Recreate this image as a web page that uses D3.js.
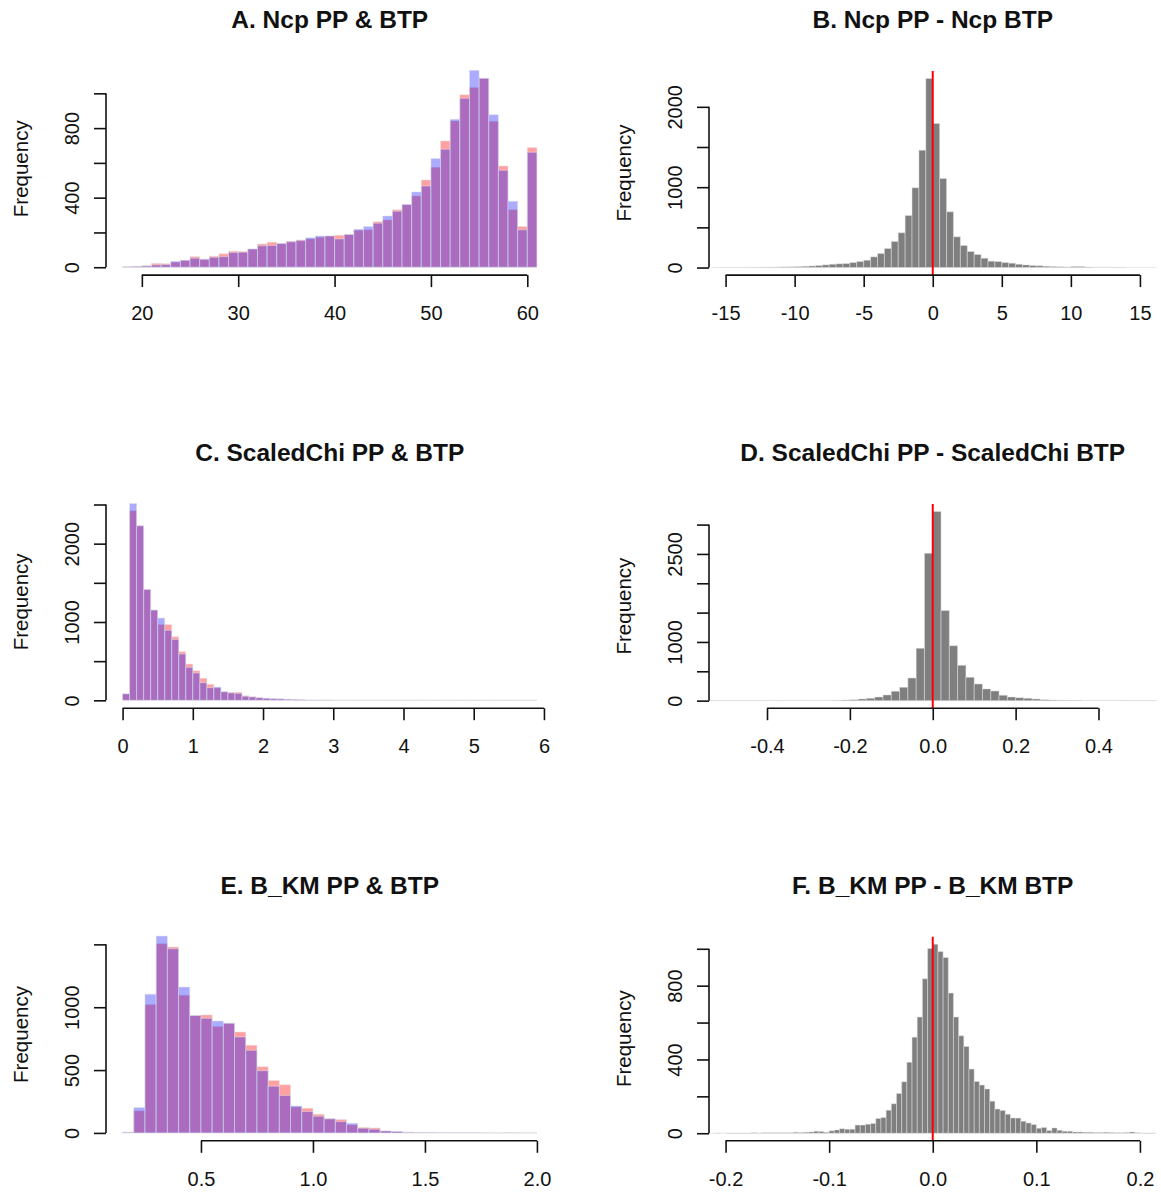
<!DOCTYPE html>
<html>
<head>
<meta charset="utf-8">
<script src="https://cdn.jsdelivr.net/npm/d3@7"></script>
<style>
  body { margin: 0; background: #fff; }
  svg { font-family: "Liberation Sans", Arial, Helvetica, sans-serif; }
</style>
</head>
<body>
<svg id="chart" width="1161" height="1194"></svg>
<script>
// values (counts per bin)

var titles = ['A. Ncp PP & BTP', 'B. Ncp PP - Ncp BTP',
              'C. ScaledChi PP & BTP', 'D. ScaledChi PP - ScaledChi BTP',
              'E. B_KM PP & BTP', 'F. B_KM PP - B_KM BTP'];

// A: bins of width 1 starting at 18
var ncpBinStart = 18, ncpBinWidth = 1;
var ncpPP  = [3,5,9,22,20,29,40,61,46,63, 77,92,90,105,134,144,136,149,157,163,
              172,180,184,188,213,215,262,272,330,360, 410,502,575,726,841,992,1034,1086,839,582,
              331,234,688];
var ncpBTP = [3,5,7,13,15,34,40,52,46,57, 61,84,86,105,123,125,136,146,153,170,
              180,180,163,188,218,234,253,295,322,360, 433,467,625,678,851,971,1132,1086,877,557,
              379,215,661];
var ncpXTicks = [20, 30, 40, 50, 60];
var ncpXLabels = ['20', '30', '40', '50', '60'];
var ncpYTicks = [0, 200, 400, 600, 800, 1000];
var ncpYLabels = [0, 400, 800];

// B: bins of width 0.5 starting at -16
var ncpDiffBinStart = -16, ncpDiffBinWidth = 0.5;
var ncpDiff = [1,1,2,2,2,3,3,4,5,6, 8,9,11,15,19,25,33,41,46,50,
               62,75,91,133,174,237,324,432,647,992, 1461,2353,
               1793,1108,693,382,274,199,162,116, 79,75,62,54,41,33,25,21,16,12,
               10,8,12,14,6,5,4,4,3,3, 2,2,2,1,1];
var ncpDiffXLim = [-15, 15];
var ncpDiffXTicks = [-15, -10, -5, 0, 5, 10, 15];
var ncpDiffXLabels = ['-15', '-10', '-5', '0', '5', '10', '15'];
var ncpDiffYTicks = [0, 500, 1000, 1500, 2000];
var ncpDiffYLabels = [0, 1000, 2000];

// C: bins of width 0.1 starting at 0
var chiBinStart = 0, chiBinWidth = 0.1;
var chiPP  = [80,2419,2228,1416,1152,969,969,812,621,463, 378,281,204,157,110,102,102,60,47,34,
              26,21,17,13,9,6,5,4,3,3, 2,2,1,2,1,1,2,1,1,1, 1,2,1,0,1,1,0,1,0,0,
              1,0,0,0,0,0,0,0,1];
var chiBTP = [85,2513,2228,1416,1152,1050,893,778,591,421, 349,225,162,170,110,94,89,51,43,34,
              26,21,19,13,9,7,5,4,4,3, 2,1,2,1,1,2,1,1,0,1, 1,1,0,1,0,1,1,0,0,1,
              0,0,1,0,0,0,0,0,1];
var chiXTicks = [0, 1, 2, 3, 4, 5, 6];
var chiXLabels = ['0', '1', '2', '3', '4', '5', '6'];
var chiYTicks = [0, 500, 1000, 1500, 2000, 2500];
var chiYLabels = [0, 1000, 2000];

// D: bins of width 0.02 starting at -0.56
var chiDiffBinStart = -0.56, chiDiffBinWidth = 0.02;
var chiDiff = [1,1,1,1,1,1,1,1,2,1,2,2,2,3,3,4,
               6,11,17,28,40,62,97,159,227,386,892,2511,
               3222,1534,937,602,398,284,199,165,91,62,51,40,28,17,11,8,6,5,4,3,2,2,2,1,1,1,1,1];
var chiDiffXLim = [-0.5, 0.5];
var chiDiffXTicks = [-0.4, -0.2, 0, 0.2, 0.4];
var chiDiffXLabels = ['-0.4', '-0.2', '0.0', '0.2', '0.4'];
var chiDiffYTicks = [0, 500, 1000, 1500, 2000, 2500, 3000];
var chiDiffYLabels = [0, 1000, 2500];

// E: bins of width 0.05 starting at 0.15
var kmBinStart = 0.15, kmBinWidth = 0.05;
var kmPP  = [5,176,1021,1505,1479,1096,934,939,846,872, 803,697,527,418,383,207,197,149,112,106,
             64,43,40,16,11,5,3,2,2,1, 1,1,1,0,0,1,1];
var kmBTP = [5,202,1104,1566,1465,1160,934,912,891,872, 763,657,495,372,298,215,170,133,112,90,
             77,37,29,16,11,5,3,3,2,2, 1,1,0,0,1,0,0];
var kmXTicks = [0.5, 1.0, 1.5, 2.0];
var kmXLabels = ['0.5', '1.0', '1.5', '2.0'];
var kmYTicks = [0, 500, 1000, 1500];
var kmYLabels = [0, 500, 1000];

// F: bins of width 0.005 starting at -0.22
var kmDiffBinStart = -0.22, kmDiffBinWidth = 0.005;
var kmDiff = [0,0,1,0,1,1,1,1,1,2, 1,2,3,2,2,3,3,5,4,5, 7,11,9,5,13,18,25,22,22,44,
              44,49,53,80,85,125,160,216,279,385, 521,630,837,1002,
              1025,985,953,760,630,528,470,348,281,261, 240,174,131,123,103,83,82,65,56,47,
              27,31,15,29,16,11,11,7,7,5, 5,4,4,5,4,3,2,4,7,3, 1,1,1];
var kmDiffXLim = [-0.2, 0.2];
var kmDiffXTicks = [-0.2, -0.1, 0, 0.1, 0.2];
var kmDiffXLabels = ['-0.2', '-0.1', '0.0', '0.1', '0.2'];
var kmDiffYTicks = [0, 200, 400, 600, 800, 1000];
var kmDiffYLabels = [0, 400, 800];

// panel table built from the arrays above
var overlay = ['#ff0000', '#0000ff'];
var single = ['#7f7f7f'];
var panels = [
  {title: titles[0], col: 0, row: 0, start: ncpBinStart, width: ncpBinWidth, series: [ncpPP, ncpBTP],
   fills: overlay, xlim: null, xTicks: ncpXTicks, xLabels: ncpXLabels, yTicks: ncpYTicks, yLabels: ncpYLabels},
  {title: titles[1], col: 1, row: 0, start: ncpDiffBinStart, width: ncpDiffBinWidth, series: [ncpDiff],
   fills: single, xlim: ncpDiffXLim, xTicks: ncpDiffXTicks, xLabels: ncpDiffXLabels, yTicks: ncpDiffYTicks, yLabels: ncpDiffYLabels, zeroLine: true},
  {title: titles[2], col: 0, row: 1, start: chiBinStart, width: chiBinWidth, series: [chiPP, chiBTP],
   fills: overlay, xlim: null, xTicks: chiXTicks, xLabels: chiXLabels, yTicks: chiYTicks, yLabels: chiYLabels},
  {title: titles[3], col: 1, row: 1, start: chiDiffBinStart, width: chiDiffBinWidth, series: [chiDiff],
   fills: single, xlim: chiDiffXLim, xTicks: chiDiffXTicks, xLabels: chiDiffXLabels, yTicks: chiDiffYTicks, yLabels: chiDiffYLabels, zeroLine: true},
  {title: titles[4], col: 0, row: 2, start: kmBinStart, width: kmBinWidth, series: [kmPP, kmBTP],
   fills: overlay, xlim: null, xTicks: kmXTicks, xLabels: kmXLabels, yTicks: kmYTicks, yLabels: kmYLabels},
  {title: titles[5], col: 1, row: 2, start: kmDiffBinStart, width: kmDiffBinWidth, series: [kmDiff],
   fills: single, xlim: kmDiffXLim, xTicks: kmDiffXTicks, xLabels: kmDiffXLabels, yTicks: kmDiffYTicks, yLabels: kmDiffYLabels, zeroLine: true}
];

// layout
var colX = [106, 709];
var plotW = 447.5;
var rowBottom = [275.1, 708.2, 1140.8];
var colPlotH = [212.6, 204.2];
var titleY = [28, 461, 894];
var fontStack = '"Liberation Sans", Arial, Helvetica, sans-serif';

var svg = d3.select('#chart');

panels.forEach(function(p, i) {
  var left = colX[p.col];
  var bottom = rowBottom[p.row];
  var top = bottom - colPlotH[p.col];
  var n = p.series[0].length;

  // R style: data range (or xlim) extended by 4% each side
  var lim = p.xlim || [p.start, p.start + p.width * n];
  var pad = (lim[1] - lim[0]) * 0.04;
  var x = d3.scaleLinear().domain([lim[0] - pad, lim[1] + pad]).range([left, left + plotW]);
  var ymax = d3.max(p.series, function(s) { return d3.max(s); });
  var y = d3.scaleLinear().domain([-0.04 * ymax, 1.04 * ymax]).range([bottom, top]);

  svg.append('clipPath').attr('id', 'clip' + i)
    .append('rect')
    .attr('x', left).attr('y', top)
    .attr('width', plotW).attr('height', bottom - top);

  var plotg = svg.append('g').attr('clip-path', 'url(#clip' + i + ')');

  p.series.forEach(function(s, j) {
    plotg.append('g')
      .selectAll('path')
      .data(s)
      .join('path')
      .attr('d', function(d, k) {
        var x0 = x(p.start + k * p.width), x1 = x(p.start + (k + 1) * p.width);
        return 'M' + x0 + ',' + y(0) + 'V' + y(d) + 'H' + x1 + 'V' + y(0) + 'Z';
      })
      .attr('fill', p.fills[j])
      .attr('fill-opacity', p.series.length > 1 ? (j === 0 ? 0.37 : 0.33) : 1)
      .attr('stroke', '#e2e2e2')
      .attr('stroke-opacity', 0.7)
      .attr('stroke-width', 0.7);
  });

  if (p.zeroLine) {
    plotg.append('line')
      .attr('x1', x(0)).attr('x2', x(0))
      .attr('y1', top).attr('y2', bottom)
      .attr('stroke', '#ff0000')
      .attr('stroke-width', 2);
  }

  // x axis, line only from first to last tick like R
  var xLab = new Map(p.xTicks.map(function(t, k) { return [t, p.xLabels[k]]; }));
  var xa = svg.append('g')
    .attr('transform', 'translate(0,' + bottom + ')')
    .call(d3.axisBottom(x).tickValues(p.xTicks)
      .tickFormat(function(d) { return xLab.get(d); })
      .tickSize(12).tickPadding(19));
  xa.select('.domain')
    .attr('d', 'M' + x(p.xTicks[0]) + ',0H' + x(p.xTicks[p.xTicks.length - 1]));
  xa.attr('font-size', 20).attr('font-family', fontStack).attr('color', '#111');
  xa.selectAll('line, path').attr('stroke-width', 1.6);

  // y axis, labels rotated parallel to the axis
  var ya = svg.append('g')
    .attr('transform', 'translate(' + left + ',0)')
    .call(d3.axisLeft(y).tickValues(p.yTicks)
      .tickFormat(function(d) { return p.yLabels.indexOf(d) >= 0 ? String(d) : ''; })
      .tickSize(12));
  ya.select('.domain')
    .attr('d', 'M0,' + y(p.yTicks[0]) + 'V' + y(p.yTicks[p.yTicks.length - 1]));
  ya.attr('font-size', 20).attr('font-family', fontStack).attr('color', '#111');
  ya.selectAll('line, path').attr('stroke-width', 1.6);
  ya.selectAll('text')
    .attr('transform', 'rotate(-90)')
    .attr('x', 0).attr('y', -27).attr('dy', null)
    .attr('text-anchor', 'middle');

  svg.append('text')
    .attr('transform', 'translate(' + (left - 78) + ',' + ((top + bottom) / 2) + ') rotate(-90)')
    .attr('text-anchor', 'middle')
    .attr('font-size', 20.5)
    .attr('fill', '#111')
    .text('Frequency');

  svg.append('text')
    .attr('x', left + plotW / 2)
    .attr('y', titleY[p.row])
    .attr('text-anchor', 'middle')
    .attr('font-size', 24.5)
    .attr('font-weight', 'bold')
    .attr('fill', '#111')
    .text(p.title);
});
</script>
</body>
</html>
